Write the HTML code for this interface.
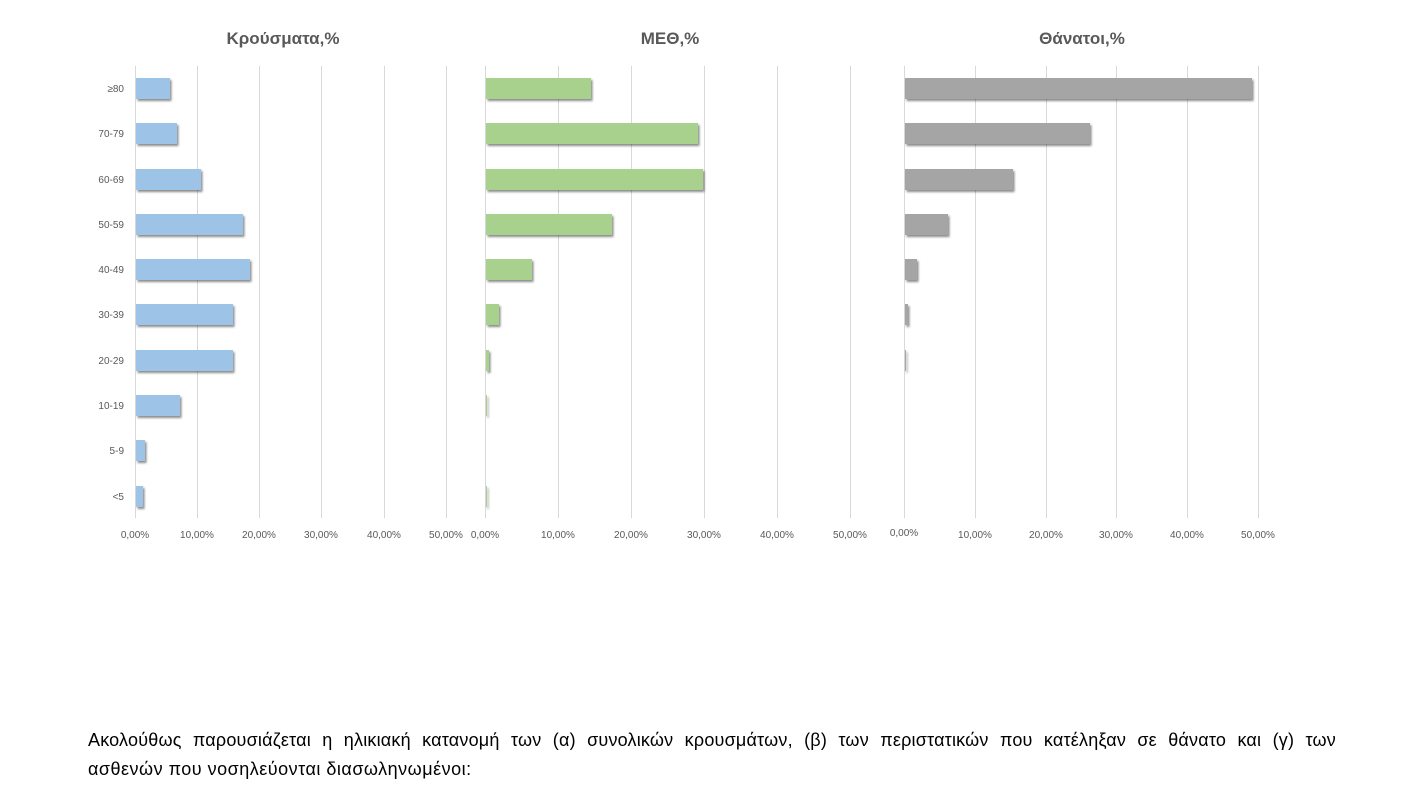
<!DOCTYPE html>
<html><head><meta charset="utf-8"><style>
body{margin:0;width:1406px;height:804px;background:#fff;overflow:hidden;font-family:"Liberation Sans","DejaVu Sans",sans-serif}
svg{position:absolute;left:0;top:0}
.l{position:absolute;left:88px;width:1248px;font-size:18px;color:#000;white-space:nowrap;letter-spacing:0.5px}
.j{text-align:justify;text-align-last:justify;letter-spacing:0.2px}
</style></head><body>
<svg width="1406" height="804" xmlns="http://www.w3.org/2000/svg">
<defs><filter id="s" x="-10%" y="-30%" width="130%" height="190%"><feDropShadow dx="1.5" dy="2" stdDeviation="1" flood-color="#000" flood-opacity="0.45"/></filter></defs>
<g font-family="Liberation Sans, sans-serif" font-weight="bold" font-size="17" fill="#595959" text-anchor="middle">
<text x="283" y="44">Κρούσματα,%</text><text x="670" y="44">ΜΕΘ,%</text><text x="1082" y="44">Θάνατοι,%</text></g>
<g stroke="#d9d9d9" stroke-width="1">
<path d="M135.5 66V518M197.5 66V518M259.5 66V518M321.5 66V518M384.5 66V518M446.5 66V518"/>
<path d="M485.5 66V518M558.5 66V518M631.5 66V518M704.5 66V518M777.5 66V518M850.5 66V518"/>
<path d="M904.5 66V518M975.5 66V518M1046.5 66V518M1116.5 66V518M1187.5 66V518M1258.5 66V518"/>
</g>
<g font-size="10" fill="#595959" text-anchor="end">
<text x="124" y="92">≥80</text><text x="124" y="137">70-79</text><text x="124" y="183">60-69</text><text x="124" y="228">50-59</text><text x="124" y="273">40-49</text><text x="124" y="318">30-39</text><text x="124" y="364">20-29</text><text x="124" y="409">10-19</text><text x="124" y="454">5-9</text><text x="124" y="500">&lt;5</text></g>
<g font-size="10" fill="#595959" text-anchor="middle">
<text x="135" y="538">0,00%</text><text x="197" y="538">10,00%</text><text x="259" y="538">20,00%</text><text x="321" y="538">30,00%</text><text x="384" y="538">40,00%</text><text x="446" y="538">50,00%</text>
<text x="485" y="538">0,00%</text><text x="558" y="538">10,00%</text><text x="631" y="538">20,00%</text><text x="704" y="538">30,00%</text><text x="777" y="538">40,00%</text><text x="850" y="538">50,00%</text>
<text x="904" y="536">0,00%</text><text x="975" y="538">10,00%</text><text x="1046" y="538">20,00%</text><text x="1116" y="538">30,00%</text><text x="1187" y="538">40,00%</text><text x="1258" y="538">50,00%</text></g>
<g fill="#9dc3e6" filter="url(#s)">
<rect x="136" y="78" width="34" height="21"/><rect x="136" y="123" width="41" height="21"/><rect x="136" y="169" width="65" height="21"/><rect x="136" y="214" width="107" height="21"/><rect x="136" y="259" width="114" height="21"/><rect x="136" y="304" width="97" height="21"/><rect x="136" y="350" width="97" height="21"/><rect x="136" y="395" width="44" height="21"/><rect x="136" y="440" width="9" height="21"/><rect x="136" y="486" width="7" height="21"/></g>
<g fill="#a9d18e" filter="url(#s)">
<rect x="486" y="78" width="105" height="21"/><rect x="486" y="123" width="212" height="21"/><rect x="486" y="169" width="217" height="21"/><rect x="486" y="214" width="126" height="21"/><rect x="486" y="259" width="46" height="21"/><rect x="486" y="304" width="13" height="21"/><rect x="486" y="350" width="3" height="21"/><rect x="486" y="395" width="1" height="21"/><rect x="486" y="486" width="1" height="21"/></g>
<g fill="#a5a5a5" filter="url(#s)">
<rect x="905" y="78" width="347" height="21"/><rect x="905" y="123" width="185" height="21"/><rect x="905" y="169" width="108" height="21"/><rect x="905" y="214" width="43" height="21"/><rect x="905" y="259" width="12" height="21"/><rect x="905" y="304" width="3" height="21"/><rect x="905" y="350" width="1" height="21"/></g>
</svg>
<div class="l j" style="top:730px">Ακολούθως παρουσιάζεται η ηλικιακή κατανομή των (α) συνολικών κρουσμάτων, (β) των περιστατικών που κατέληξαν σε θάνατο και (γ) των</div>
<div class="l" style="top:759px">ασθενών που νοσηλεύονται διασωληνωμένοι:</div>
</body></html>
